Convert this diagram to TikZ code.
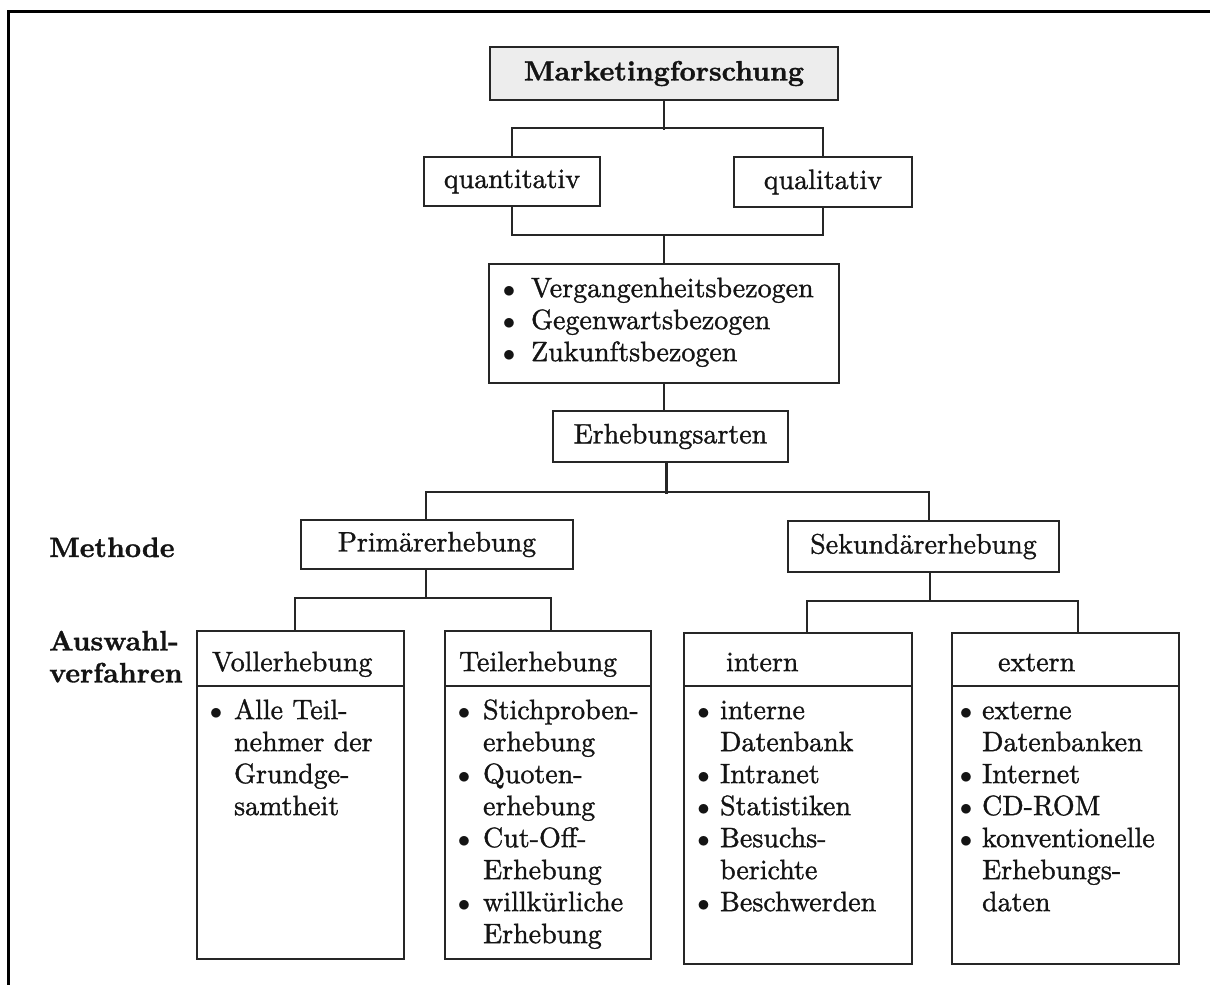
\documentclass[tikz,border=0pt]{standalone}
\usepackage{fontspec}
% fixed 10pt design size of Latin Modern at every size, slightly heavier strokes
\setmainfont{lmroman10-regular.otf}[FakeBold=1.2]
\newfontfamily\heavy{lmroman10-bold.otf}[FakeBold=1.2]
\newcommand\bigtxt{\fontsize{28pt}{32pt}\selectfont}
\newlength\bulx
\newlength\txtx
% bullet item and continuation line inside a list box
\newcommand\itm[1]{\hspace*{\bulx}\makebox[0pt]{$\bullet$}\hspace*{\dimexpr\txtx-\bulx\relax}#1}
\newcommand\cnt[1]{\hspace*{\txtx}#1}
% fixed-size, top-aligned list: width, height, bullet offset, text offset, lines
\newcommand\blist[5]{%
  \begin{minipage}[t][#2][t]{#1}\setlength\bulx{#3}\setlength\txtx{#4}%
  \raggedright\rule{0pt}{33pt}#5\end{minipage}}
\begin{document}
\begin{tikzpicture}[x=1pt,y=-1pt,
  box/.style={draw=black!85, line width=2.2pt, inner sep=0pt, text=black!92, font=\bigtxt},
  hbox/.style={box, anchor=north west, align=left, text depth=15pt},
  lbl/.style={inner sep=0pt, text=black!92, font=\heavy\bigtxt},
  conn/.style={draw=black!85, line width=2.2pt}]
\useasboundingbox (0,0) rectangle (1210,985);
% frame
\draw[black, line width=3pt] (1210,11) -- (8,11) -- (8,985);

% upper chain
\node[box, fill=black!7, minimum width=348pt, minimum height=53pt, font=\heavy\bigtxt] (mf) at (664,73.5) {Marketingforschung};
\node[box, minimum width=176pt, minimum height=49pt] (quant) at (512,181.5) {quantitativ};
\node[box, minimum width=178pt, minimum height=50pt] (qual) at (823,182) {qualitativ};
\node[box, anchor=north west] (zeit) at (488,263)
  {\blist{350pt}{119pt}{20pt}{42pt}{\itm{Vergangenheitsbezogen}\\\itm{Gegenwartsbezogen}\\\itm{Zukunftsbezogen}}};
\node[box, minimum width=235pt, minimum height=51pt] (erh) at (670.5,436.5) {Erhebungsarten};
\node[box, minimum width=272pt, minimum height=49pt] (prim) at (437,544.5) {Primärerhebung};
\node[box, minimum width=271pt, minimum height=51pt] (sek) at (923.5,546.5) {Sekundärerhebung};

% row labels
\node[lbl, anchor=base west] (meth) at (49,557) {Methode};
\node[lbl, anchor=north west, align=left] (ausw) at (49,630.6) {Auswahl-\\verfahren};

% Vollerhebung
\node[hbox, text width=207pt, text height=40pt] (volH) at (196,630) {\hspace*{15pt}Vollerhebung};
\node[box, anchor=north west] (volB) at (196,685)
  {\blist{207pt}{273pt}{19pt}{37pt}{\itm{Alle Teil-}\\\cnt{nehmer der}\\\cnt{Grundge-}\\\cnt{samtheit}}};

% Teilerhebung
\node[hbox, text width=206pt, text height=40pt] (teilH) at (444,630) {\hspace*{14pt}Teilerhebung};
\node[box, anchor=north west] (teilB) at (444,685)
  {\blist{206pt}{273pt}{19pt}{38pt}{\itm{Stichproben-}\\\cnt{erhebung}\\\itm{Quoten-}\\\cnt{erhebung}\\\itm{Cut-Off-}\\\cnt{Erhebung}\\\itm{willkürliche}\\\cnt{Erhebung}}};

% intern
\node[hbox, text width=228pt, text height=38pt] (intH) at (683,632) {\hspace*{42pt}intern};
\node[box, anchor=north west] (intB) at (683,685)
  {\blist{228pt}{278pt}{19.5pt}{36pt}{\itm{interne}\\\cnt{Datenbank}\\\itm{Intranet}\\\itm{Statistiken}\\\itm{Besuchs-}\\\cnt{berichte}\\\itm{Beschwerden}}};

% extern
\node[hbox, text width=227pt, text height=38pt] (extH) at (951,632) {\hspace*{46pt}extern};
\node[box, anchor=north west] (extB) at (951,685)
  {\blist{227pt}{278pt}{14pt}{30pt}{\itm{externe}\\\cnt{Datenbanken}\\\itm{Internet}\\\itm{CD-ROM}\\\itm{konventionelle}\\\cnt{Erhebungs-}\\\cnt{daten}}};

% connectors
\draw[conn] (mf.south) -- ++(0,29);
\draw[conn] (quant.north) -- ++(0,-28) -| (qual.north);
\draw[conn] (quant.south) -- ++(0,28) -| (qual.south);
\draw[conn] (zeit.north) -- ++(0,-29);
\draw[conn] (zeit.south) -- (zeit.south |- erh.north);
\draw[conn] ([xshift=-4pt]erh.south) -- ++(0,31);
\draw[conn] ([xshift=-11pt]prim.north) -- ++(0,-27) -| ([xshift=5.5pt]sek.north);
\draw[conn] ([xshift=-11pt]prim.south) -- ++(0,29);
\draw[conn] ([xshift=-5.5pt]volH.north) -- ++(0,-32) -| ([xshift=3pt]teilH.north);
\draw[conn] ([xshift=6.5pt]sek.south) -- ++(0,29);
\draw[conn] ([xshift=9pt]intH.north) -- ++(0,-31) -| ([xshift=12.5pt]extH.north);
\end{tikzpicture}
\end{document}
